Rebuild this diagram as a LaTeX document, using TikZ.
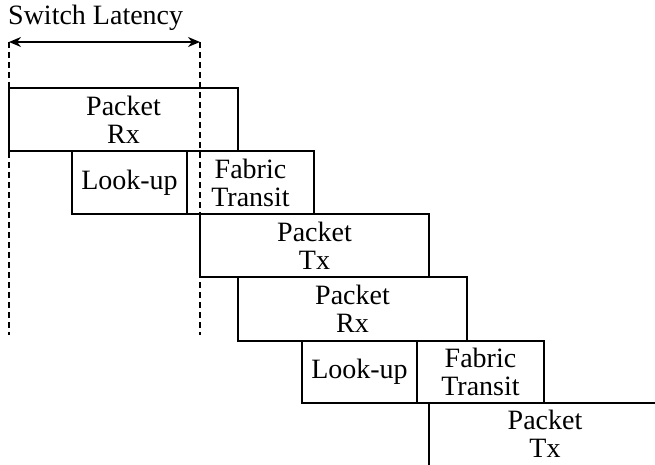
\documentclass[tikz,border=0pt]{standalone}
\usepackage{fontspec}
\setmainfont{Liberation Serif}
\usetikzlibrary{arrows.meta}
\begin{document}
\begin{tikzpicture}[x=1pt,y=-1pt,
  stage/.style={draw, line width=1.5pt, inner sep=0pt, outer sep=0pt,
    anchor=north west, align=center,
    font=\fontsize{28}{28}\selectfont},
  openstage/.style={stage, draw=none},
  guide/.style={line width=1.3pt, dash pattern=on 6pt off 4pt},
  span/.style={line width=1.5pt, {Stealth[length=12pt,width=10pt]}-{Stealth[length=12pt,width=10pt]}},
  label/.style={font=\fontsize{28}{28}\selectfont, inner sep=0pt, anchor=base west}]
\useasboundingbox (0,0) rectangle (655,465);

% latency marker
\node[label] (lat) at (8,25) {Switch Latency};
\coordinate (latL) at (9,42);
\coordinate (latR) at (200,42);
\coordinate (latLb) at (9,335);
\coordinate (latRb) at (200,335);
\draw[guide] (latL) -- (latLb);
\draw[guide] (latR) -- (latRb);
\draw[span] (latL) -- (latR);

% first switch
\node[stage, minimum width=229pt, minimum height=63pt] (rx1) at (9,88) {Packet\\Rx};
\node[stage, minimum width=115pt, minimum height=63pt] (lu1) at (72,151) {Look-up};
\node[stage, minimum width=127pt, minimum height=63pt] (ft1) at (187,151) {Fabric\\Transit};
\node[stage, minimum width=229pt, minimum height=63pt] (tx1) at (200,214) {Packet\\Tx};

% second switch
\node[stage, minimum width=229pt, minimum height=64pt] (rx2) at (238,277) {Packet\\Rx};
\node[stage, minimum width=115pt, minimum height=62pt] (lu2) at (302,341) {Look-up};
\node[stage, minimum width=127pt, minimum height=62pt] (ft2) at (417,341) {Fabric\\Transit};
\node[openstage, minimum width=232pt, minimum height=62pt] (tx2) at (429,403) {Packet\\Tx};
\coordinate (tx2end) at (655,403);
\draw[line width=1.5pt] (tx2.south west) -- (tx2.north west) -- (tx2end);
\end{tikzpicture}
\end{document}
